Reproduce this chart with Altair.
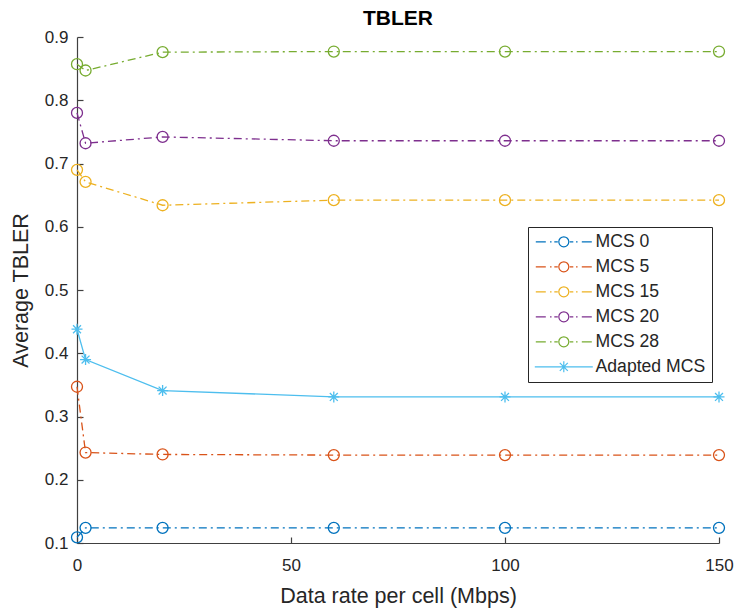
import altair as alt
import pandas as pd

# ---------------- data ----------------
x_vals = [0, 2, 20, 60, 100, 150]
series_names = ["MCS 0", "MCS 5", "MCS 15", "MCS 20", "MCS 28", "Adapted MCS"]
mcs0 = [0.109, 0.124, 0.124, 0.124, 0.124, 0.124]
mcs5 = [0.347, 0.243, 0.240, 0.239, 0.239, 0.239]
mcs15 = [0.690, 0.671, 0.634, 0.642, 0.642, 0.642]
mcs20 = [0.780, 0.732, 0.742, 0.736, 0.736, 0.736]
mcs28 = [0.857, 0.847, 0.876, 0.877, 0.877, 0.877]
adapted = [0.438, 0.390, 0.341, 0.331, 0.331, 0.331]
colors = ["#0072BD", "#D95319", "#EDB120", "#7E2F8E", "#77AC30", "#4DBEEE"]
x_ticks = [0, 50, 100, 150]
y_ticks = [0.1, 0.2, 0.3, 0.4, 0.5, 0.6, 0.7, 0.8, 0.9]

rows = []
for name, vals in zip(series_names, [mcs0, mcs5, mcs15, mcs20, mcs28, adapted]):
    for xv, yv in zip(x_vals, vals):
        rows.append({"series": name, "x": xv, "y": yv})
df = pd.DataFrame(rows)

W, H = 642, 506
FONT = "Liberation Sans"
AX = "#404040"
TXT = "#262626"

asterisk = "M-1,0L1,0M0,-1L0,1M-0.72,-0.72L0.72,0.72M-0.72,0.72L0.72,-0.72"
circ = "M1,0A1,1 0 1,1 -1,0A1,1 0 1,1 1,0Z"
leg_dashdot = ("M-5.6,0L-3.6,0M-2.75,0L-2.45,0M-1.9,0L-1.2,0"
               "M1.2,0L1.9,0M2.45,0L2.75,0M3.6,0L5.6,0"
               "M1,0A1,1 0 1,1 -1,0A1,1 0 1,1 1,0Z")
leg_solid = ("M-5.8,0L5.8,0"
             "M0,-1.1L0,1.1M-0.8,-0.8L0.8,0.8M-0.8,0.8L0.8,-0.8")
legend_glyphs = [leg_dashdot] * 5 + [leg_solid]

color_scale = alt.Scale(domain=series_names, range=colors)
shape_scale = alt.Scale(domain=series_names, range=legend_glyphs)
xs = alt.Scale(domain=[0, 150], nice=False, zero=False)
ys = alt.Scale(domain=[0.1, 0.9], nice=False, zero=False)

legend = alt.Legend(
    orient="none", legendX=451, legendY=190, title=None,
    labelFont=FONT, labelFontSize=17.6, labelColor=TXT,
    symbolSize=100, symbolOffset=21, labelOffset=23,
    padding=6, rowPadding=6, strokeColor=TXT, fillColor="white",
    symbolStrokeWidth=1.2, symbolFillColor="transparent", symbolOpacity=1,
)

x_main = alt.Axis(orient="bottom", values=x_ticks, ticks=False, grid=False,
                  domainColor=AX, domainWidth=1.2, labelFont=FONT, labelFontSize=17,
                  labelColor=TXT, labelPadding=14, labelFlush=False,
                  title="Data rate per cell (Mbps)",
                  titleFont=FONT, titleFontSize=21.5, titleFontWeight="normal",
                  titleColor=TXT, titlePadding=12)
y_main = alt.Axis(orient="left", values=y_ticks, format=".1f", ticks=False, grid=False,
                  domainColor=AX, domainWidth=1.2, labelFont=FONT, labelFontSize=17,
                  labelColor=TXT, labelPadding=9, title="Average TBLER",
                  titleFont=FONT, titleFontSize=21.5, titleFontWeight="normal",
                  titleColor=TXT, titlePadding=12)
x_ticks_in = alt.Axis(orient="top", offset=-H, values=x_ticks, labels=False, domain=False,
                      ticks=True, tickSize=6, tickColor=AX, tickWidth=1.2, grid=False, title=None)
y_ticks_in = alt.Axis(orient="right", offset=-W, values=y_ticks, labels=False, domain=False,
                      ticks=True, tickSize=6, tickColor=AX, tickWidth=1.2, grid=False, title=None)

base = alt.Chart(df)
is_adapted = "datum.series == 'Adapted MCS'"
not_adapted = "datum.series != 'Adapted MCS'"

# legend carrier layer (first so its legend settings win): invisible points
legend_layer = base.mark_point(filled=False, strokeWidth=1.2, opacity=0).encode(
    x=alt.X("x:Q", scale=xs, axis=None),
    y=alt.Y("y:Q", scale=ys, axis=None),
    color=alt.Color("series:N", scale=color_scale, legend=legend),
    shape=alt.Shape("series:N", scale=shape_scale, legend=legend),
)
lines_mcs = base.transform_filter(not_adapted).mark_line(
    strokeDash=[8, 4, 2, 4], strokeWidth=1.3
).encode(
    x=alt.X("x:Q", scale=xs, axis=x_main),
    y=alt.Y("y:Q", scale=ys, axis=y_main),
    color=alt.Color("series:N", scale=color_scale, legend=None),
)
line_ad = base.transform_filter(is_adapted).mark_line(strokeWidth=1.3).encode(
    x=alt.X("x:Q", scale=xs, axis=None),
    y=alt.Y("y:Q", scale=ys, axis=None),
    color=alt.Color("series:N", scale=color_scale, legend=None),
)
pts_mcs = base.transform_filter(not_adapted).mark_point(
    shape=circ, filled=False, size=121, strokeWidth=1.3, opacity=1
).encode(
    x=alt.X("x:Q", scale=xs, axis=x_ticks_in),
    y=alt.Y("y:Q", scale=ys, axis=y_ticks_in),
    color=alt.Color("series:N", scale=color_scale, legend=None),
)
pts_ad = base.transform_filter(is_adapted).mark_point(
    shape=asterisk, filled=False, size=121, strokeWidth=1.3, opacity=1
).encode(
    x=alt.X("x:Q", scale=xs, axis=None),
    y=alt.Y("y:Q", scale=ys, axis=None),
    color=alt.Color("series:N", scale=color_scale, legend=None),
)

chart = alt.layer(legend_layer, lines_mcs, line_ad, pts_mcs, pts_ad).resolve_axis(
    x="independent", y="independent"
).properties(
    width=W, height=H,
    title=alt.TitleParams("TBLER", font=FONT, fontSize=21, fontWeight="bold",
                          color="black", anchor="middle", offset=-1),
    autosize=alt.AutoSizeParams(type="none"),
    padding={"left": 77, "top": 37, "right": 17, "bottom": 67},
    background="white",
).configure_view(stroke=None)

chart.save("out.html", embed_options={"renderer": "svg", "actions": False})
